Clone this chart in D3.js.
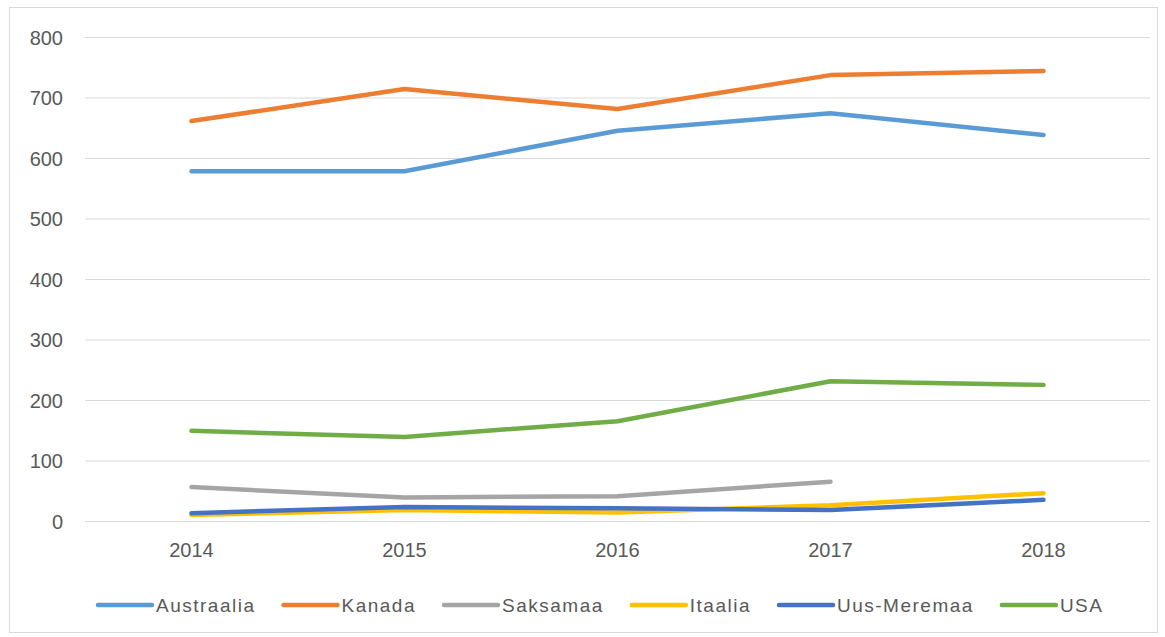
<!DOCTYPE html>
<html>
<head>
<meta charset="utf-8">
<script src="https://cdn.jsdelivr.net/npm/d3@7"></script>
<style>
    body { margin: 0; background: #fff; }
    svg text { font-family: "Liberation Sans", Arial, sans-serif; fill: #595959; }
</style>
</head>
<body>
<div id="chart"></div>
<script>
// years on the x axis
var years = ["2014", "2015", "2016", "2017", "2018"];
var yTicks = [0, 100, 200, 300, 400, 500, 600, 700, 800];

// series values (null = no value)
var australia = [578, 578, 645, 674, 638];
var kanada = [661, 714, 681, 737, 744];
var saksamaa = [56, 39, 41, 65, null];
var itaalia = [10, 18, 14, 26, 46];
var uusMeremaa = [13, 23, 21, 18, 35];
var usa = [149, 139, 165, 231, 225];

var seriesNames = ["Austraalia", "Kanada", "Saksamaa", "Itaalia", "Uus-Meremaa", "USA"];
var seriesValues = [australia, kanada, saksamaa, itaalia, uusMeremaa, usa];
var seriesColors = ["#5b9bd5", "#ed7d31", "#a5a5a5", "#ffc000", "#4472c4", "#70ad47"];

var width = 1165, height = 637;
var plot = {left: 85, right: 1150, top: 37, bottom: 521};

var svg = d3.select("#chart").append("svg")
    .attr("width", width)
    .attr("height", height);

// outer chart frame
svg.append("rect")
    .attr("x", 9.5)
    .attr("y", 7.5)
    .attr("width", 1148)
    .attr("height", 625)
    .attr("fill", "#fff")
    .attr("stroke", "#d9d9d9")
    .attr("stroke-width", 1);

var xScale = d3.scaleBand()
    .domain(years)
    .range([plot.left, plot.right]);

var yScale = d3.scaleLinear()
    .domain([0, 800])
    .range([plot.bottom, plot.top]);

// horizontal gridlines + y labels
var yAxis = d3.axisLeft(yScale)
    .tickValues(yTicks)
    .tickSize(-(plot.right - plot.left))
    .tickPadding(22);

var gy = svg.append("g")
    .attr("transform", "translate(" + plot.left + ",0)")
    .call(yAxis);
gy.select(".domain").remove();
gy.selectAll(".tick line")
    .attr("stroke", "#d9d9d9")
    .attr("stroke-width", 1);
gy.selectAll(".tick text")
    .style("font-size", "20px")
    .attr("dy", "0.35em");

// x labels
var xAxis = d3.axisBottom(xScale)
    .tickSize(0)
    .tickPadding(22);

var gx = svg.append("g")
    .attr("transform", "translate(0," + plot.bottom + ")")
    .call(xAxis);
gx.select(".domain").remove();
gx.selectAll(".tick text")
    .style("font-size", "20px");

// lines
var line = d3.line()
    .defined(function(d) { return d !== null; })
    .x(function(d, i) { return xScale(years[i]) + xScale.bandwidth() / 2; })
    .y(function(d) { return yScale(d); });

svg.selectAll(".series")
    .data(seriesValues)
    .enter().append("path")
    .attr("class", "series")
    .attr("d", function(d) { return line(d); })
    .attr("fill", "none")
    .attr("stroke", function(d, i) { return seriesColors[i]; })
    .attr("stroke-width", 4.5)
    .attr("stroke-linejoin", "round")
    .attr("stroke-linecap", "round");

// legend
var legend = svg.append("g").attr("class", "legend");
var lx = 98, ly = 605;
seriesNames.forEach(function(name, i) {
    var item = legend.append("g");
    item.append("line")
        .attr("x1", lx)
        .attr("x2", lx + 54)
        .attr("y1", ly)
        .attr("y2", ly)
        .attr("stroke", seriesColors[i])
        .attr("stroke-width", 4.5)
        .attr("stroke-linecap", "round");
    var t = item.append("text")
        .attr("x", lx + 58)
        .attr("y", ly)
        .attr("dy", "0.35em")
        .style("font-size", "19px")
        .style("letter-spacing", "1.5px")
        .text(name);
    lx = lx + 58 + t.node().getComputedTextLength() + 28;
});
</script>
</body>
</html>
